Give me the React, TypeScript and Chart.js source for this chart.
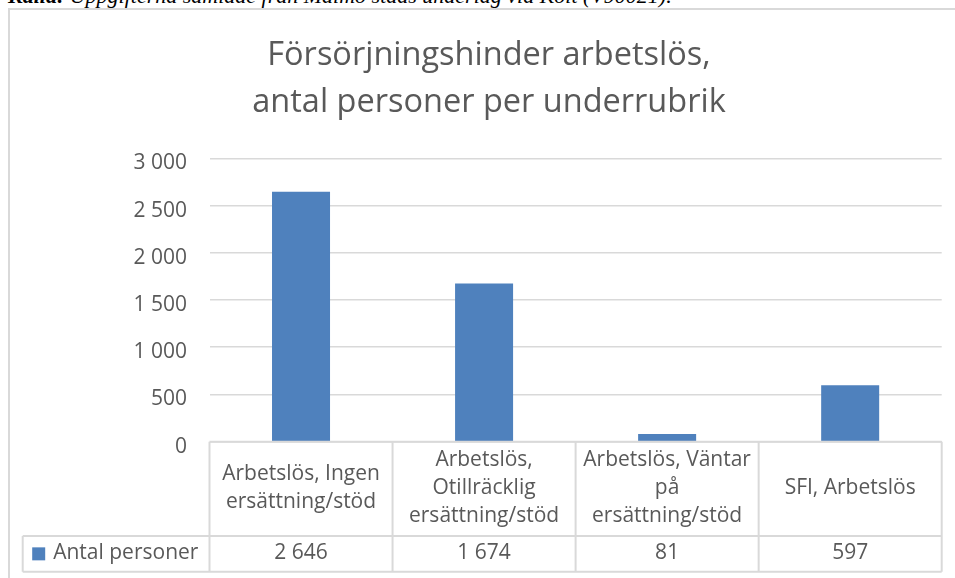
import React, { useEffect, useRef } from "react";
import { Chart, registerables } from "chart.js";

Chart.register(...registerables);

// ---- data ----
const categories: string[][] = [
  ["Arbetslös, Ingen", "ersättning/stöd"],
  ["Arbetslös,", "Otillräcklig", "ersättning/stöd"],
  ["Arbetslös, Väntar", "på", "ersättning/stöd"],
  ["SFI, Arbetslös"],
];
const values: number[] = [2646, 1674, 81, 597];
const seriesName = "Antal personer";
const yTicks: number[] = [0, 500, 1000, 1500, 2000, 2500, 3000];
const titleLines: string[] = ["Försörjningshinder arbetslös,", "antal personer per underrubrik"];
const sourceLabel = "Källa:";
const sourceNote = " Uppgifterna samlade från Malmö stads underlag via Kolt (V90021).";

// ---- style ----
const FONT = "'Open Sans', 'Noto Sans', sans-serif";
const TEXT = "#595959";
const GRID = "#d9d9d9";
const BAR = "#4f81bd";
const FS = 21;
const CAT_ROW_H = 94.3;
const VAL_ROW_H = 35.7;
const TABLE_LEFT = 14.7;
const LINE_H = 28;

function fmt(v: number): string {
  return String(v).replace(/\B(?=(\d{3})+(?!\d))/g, " ");
}

const tablePlugin = {
  id: "dataTable",
  afterDraw(chart: any) {
    const { ctx, chartArea } = chart;
    const x = chart.scales.x;
    const n = categories.length;
    const colW = (chartArea.right - chartArea.left) / n;
    const top = chartArea.bottom;
    const mid = top + CAT_ROW_H;
    const bot = mid + VAL_ROW_H;
    ctx.save();
    ctx.strokeStyle = GRID;
    ctx.lineWidth = 2;
    ctx.beginPath();
    ctx.moveTo(chartArea.left, top);
    ctx.lineTo(chartArea.right, top);
    ctx.moveTo(TABLE_LEFT, mid);
    ctx.lineTo(chartArea.right, mid);
    ctx.moveTo(TABLE_LEFT, bot);
    ctx.lineTo(chartArea.right, bot);
    ctx.moveTo(TABLE_LEFT, mid);
    ctx.lineTo(TABLE_LEFT, bot);
    for (let i = 0; i < n; i++) {
      const cx = x.getPixelForValue(i);
      const l = cx - colW / 2;
      ctx.moveTo(l, top);
      ctx.lineTo(l, bot);
      if (i === n - 1) {
        ctx.moveTo(cx + colW / 2, top);
        ctx.lineTo(cx + colW / 2, bot);
      }
    }
    ctx.stroke();

    ctx.fillStyle = TEXT;
    ctx.font = `${FS}px ${FONT}`;
    ctx.textBaseline = "alphabetic";
    ctx.textAlign = "center";
    const catCenter = (top + mid) / 2;
    const valCenter = (mid + bot) / 2;
    for (let i = 0; i < n; i++) {
      const cx = x.getPixelForValue(i);
      const lines = categories[i];
      lines.forEach((ln, j) => {
        const y = catCenter + 5.5 + (j - (lines.length - 1) / 2) * LINE_H;
        ctx.fillText(ln, cx, y);
      });
      ctx.fillText(fmt(values[i]), cx, valCenter + 5.5);
    }
    // legend key + series name
    ctx.fillStyle = BAR;
    ctx.fillRect(TABLE_LEFT + 9.5, valCenter - 6.5, 13, 13);
    ctx.fillStyle = TEXT;
    ctx.textAlign = "left";
    ctx.fillText(seriesName, TABLE_LEFT + 30.5, valCenter + 5.5);
    ctx.restore();
  },
};

export default function App() {
  const ref = useRef<HTMLCanvasElement | null>(null);
  useEffect(() => {
    if (!ref.current) return;
    const chart = new Chart(ref.current, {
      type: "bar",
      data: {
        labels: categories.map((c) => c.join(" ")),
        datasets: [
          {
            label: seriesName,
            data: values,
            backgroundColor: BAR,
            barPercentage: 58 / 183,
            categoryPercentage: 1,
          },
        ],
      },
      options: {
        animation: false,
        responsive: false,
        devicePixelRatio: 1,
        layout: { padding: { left: 0, right: 0, top: 0, bottom: 136.3 } },
        plugins: {
          legend: { display: false },
          tooltip: { enabled: false },
          title: {
            display: true,
            text: titleLines,
            color: TEXT,
            font: { family: FONT, size: 32.5, weight: "normal", lineHeight: 46.5 / 32.5 },
            padding: { top: 22.8, bottom: 32.5 },
          },
        },
        scales: {
          x: { display: false },
          y: {
            min: yTicks[0],
            max: yTicks[yTicks.length - 1],
            border: { display: false },
            grid: { color: GRID, lineWidth: 1.5, drawTicks: false },
            ticks: {
              stepSize: yTicks[1] - yTicks[0],
              color: TEXT,
              padding: 22.5,
              labelOffset: 5,
              font: { family: FONT, size: FS },
              callback: (v: any) => fmt(Number(v)),
            },
            afterFit: (s: any) => {
              s.width = 201.5;
            },
          },
          spacer: {
            type: "linear",
            position: "right",
            display: true,
            border: { display: false },
            grid: { display: false, drawTicks: false },
            ticks: { display: false },
            afterFit: (s: any) => {
              s.width = 28.3;
            },
          },
        },
      },
      plugins: [tablePlugin],
    });
    return () => chart.destroy();
  }, []);

  return (
    <div
      style={{
        position: "fixed",
        left: 0,
        top: 0,
        width: 955,
        height: 578,
        overflow: "hidden",
        background: "#fff",
      }}
    >
      <div
        style={{
          position: "absolute",
          left: 8,
          top: -15.4,
          fontFamily: "'Liberation Serif', serif",
          fontStyle: "italic",
          fontSize: 22,
          lineHeight: "22px",
          whiteSpace: "nowrap",
          color: "#000",
        }}
      >
        <b>{sourceLabel}</b>
        {sourceNote}
      </div>
      <div
        style={{
          position: "absolute",
          left: 8,
          top: 8,
          width: 2000,
          height: 2000,
          borderTop: `2px solid ${GRID}`,
          borderLeft: `2px solid ${GRID}`,
        }}
      />
      <canvas
        ref={ref}
        width={962}
        height={568}
        style={{ position: "absolute", left: 8, top: 10, width: 962, height: 568 }}
      />
    </div>
  );
}
